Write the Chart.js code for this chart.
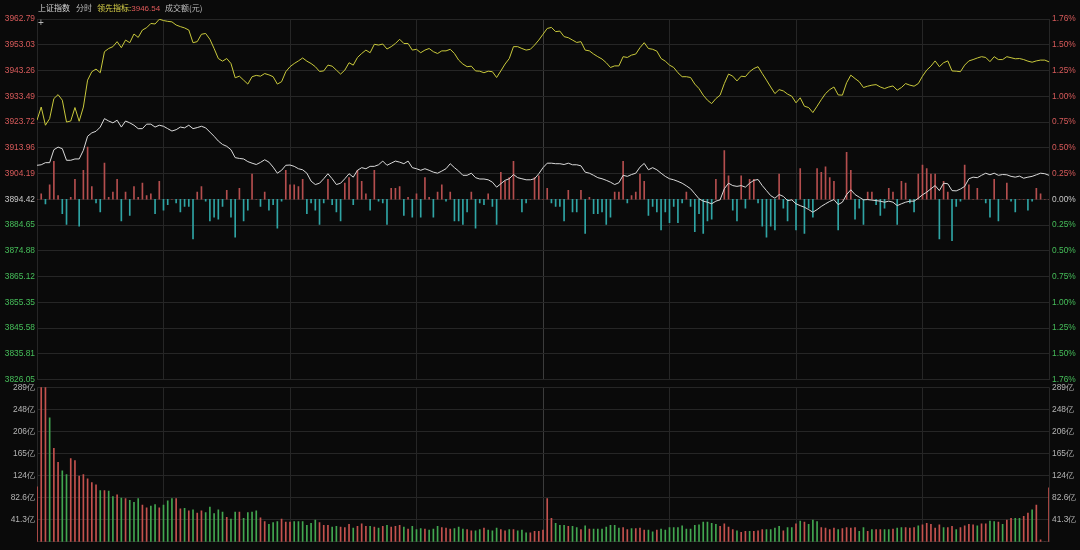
<!DOCTYPE html>
<html>
<head>
<meta charset="utf-8">
<title>上证指数 分时</title>
<script src="https://cdn.jsdelivr.net/npm/chart.js@4.4.1/dist/chart.umd.min.js"></script>
<style>
  html, body { margin: 0; padding: 0; background: #0a0a0a; }
  #wrap { position: relative; width: 1080px; height: 550px; overflow: hidden; }
  canvas { position: absolute; left: 0; top: 0; }
  .hd { position: absolute; top: 2px; font-size: 8px; line-height: 11px; white-space: nowrap;
        font-family: "Noto Sans CJK SC", "Liberation Sans", sans-serif; }
  .num { font-family: "Liberation Sans", sans-serif; }
</style>
</head>
<body>
<div id="wrap">
  <canvas id="main" width="1080" height="550"></canvas>
  <canvas id="vol" width="1080" height="550"></canvas>
  <div class="hd" style="left:38px;color:#d6d6d6">上证指数</div>
  <div class="hd" style="left:76px;color:#bcbcbc">分时</div>
  <div class="hd" style="left:97px;color:#dcd44a">领先指标:<span class="num" style="color:#e05a5a">3946.54</span></div>
  <div class="hd" style="left:165px;color:#bcbcbc">成交额(元)</div>
  <div class="hd num" style="left:38px;top:17px;font-size:10px;color:#b8b8b8">+</div>
</div>
<script>
// previous close, centre of the price axis
const base = 3894.42;

// left axis (price) and right axis (percent), top to bottom
const priceTicks = [3962.79, 3953.03, 3943.26, 3933.49, 3923.72, 3913.96, 3904.19, 3894.42,
                    3884.65, 3874.88, 3865.12, 3855.35, 3845.58, 3835.81, 3826.05];
const pctTicks = ['1.76%', '1.50%', '1.25%', '1.00%', '0.75%', '0.50%', '0.25%', '0.00%',
                  '0.25%', '0.50%', '0.75%', '1.00%', '1.25%', '1.50%', '1.76%'];

// turnover axis (亿)
const volTickValues = [0, 41.3, 82.6, 123.9, 165.2, 206.5, 247.8, 289.1];
const volTickLabels = ['', '41.3亿', '82.6亿', '124亿', '165亿', '206亿', '248亿', '289亿'];

// one value per minute, 09:30 .. 11:30 / 13:01 .. 15:00
const leadIndex = [
  3924.4,3929.4,3922.5,3925.0,3932.6,3934.1,3932.0,3923.7,3924.1,3929.2,
  3924.0,3929.4,3939.6,3942.8,3943.8,3942.4,3950.4,3951.6,3952.3,3954.2,
  3951.9,3954.8,3953.8,3957.1,3955.8,3958.6,3959.5,3961.1,3960.9,3962.7,
  3962.2,3961.9,3961.7,3960.5,3959.9,3959.4,3958.6,3953.8,3954.2,3957.0,
  3957.3,3955.1,3951.6,3947.8,3946.8,3947.8,3945.9,3940.5,3941.1,3939.6,
  3938.1,3940.9,3941.4,3941.1,3942.1,3941.6,3940.9,3938.1,3939.0,3942.8,
  3944.7,3945.9,3946.9,3948.0,3946.8,3945.9,3944.7,3942.9,3943.1,3945.3,
  3944.9,3943.4,3941.9,3943.4,3946.2,3945.3,3948.2,
  3949.7,3951.0,3950.0,3953.2,3952.9,3953.3,3951.4,3952.3,3953.5,3955.1,
  3953.5,3953.5,3951.0,3951.3,3950.0,3951.0,3951.6,3950.4,3949.7,3950.7,
  3950.7,3951.3,3949.7,3947.2,3945.7,3944.7,3944.9,3943.1,3943.0,3942.4,
  3943.0,3942.8,3940.6,3943.1,3945.7,3947.8,3952.3,3952.3,3951.6,3951.0,
  3951.3,3952.9,3954.8,3957.0,3959.2,3959.6,3958.0,3958.2,3956.1,3955.7,
  3954.8,3953.9,3954.2,3951.0,3950.7,3949.5,3948.5,3947.6,3946.2,3944.4,
  3945.0,3945.0,3948.5,3948.2,3949.1,3949.5,3951.9,3953.8,3951.6,3951.3,
  3950.6,3947.8,3946.8,3945.3,3944.4,3942.4,3940.9,3940.9,3940.6,3938.1,
  3936.4,3933.9,3932.0,3930.7,3932.6,
  3933.9,3938.3,3941.9,3941.1,3939.3,3941.1,3940.9,3942.8,3944.0,3944.7,
  3942.1,3939.6,3937.0,3934.5,3936.0,3935.5,3934.3,3933.5,3931.0,3932.9,
  3929.7,3929.2,3927.3,3929.7,3932.2,3934.5,3936.0,3937.0,3934.0,3933.9,
  3938.6,3941.5,3940.2,3939.0,3936.8,3937.3,3937.7,3937.9,3937.0,3936.4,
  3937.0,3937.4,3935.8,3936.8,3938.3,3937.7,3937.3,3938.3,3941.1,3943.4,
  3944.9,3946.9,3944.7,3946.2,3946.9,3943.1,3943.0,3942.8,3945.3,3946.9,
  3947.4,3948.0,3948.5,3948.2,3946.6,3948.5,3947.4,3947.4,3948.5,3948.1,
  3947.7,3947.8,3947.4,3946.8,3946.4,3946.9,3947.2,3947.2,3946.54
];

const shIndex = [
  3907.3,3907.5,3908.3,3908.3,3913.2,3914.2,3913.6,3909.2,3909.2,3909.7,
  3909.7,3913.0,3918.3,3919.6,3920.2,3921.8,3925.0,3924.1,3923.4,3924.4,
  3921.8,3924.1,3923.4,3922.5,3921.2,3921.2,3922.9,3922.9,3921.8,3922.5,
  3922.1,3921.2,3920.3,3920.8,3921.8,3921.5,3922.5,3921.2,3921.6,3922.1,
  3921.5,3919.9,3918.3,3916.5,3915.2,3914.5,3913.2,3910.2,3909.9,3909.7,
  3908.7,3908.1,3907.6,3908.4,3909.4,3908.5,3906.6,3904.3,3905.4,3907.3,
  3907.4,3906.9,3906.0,3905.6,3904.3,3901.3,3900.0,3900.5,3902.2,3904.1,
  3902.2,3900.0,3900.5,3902.2,3904.1,3902.8,3905.4,
  3906.4,3906.0,3906.9,3906.9,3907.5,3908.9,3907.3,3908.1,3908.9,3908.5,
  3907.9,3908.9,3906.4,3906.0,3905.4,3906.0,3905.4,3904.7,3904.3,3905.1,
  3906.0,3907.9,3906.4,3905.1,3903.5,3903.5,3904.3,3902.6,3902.1,3902.1,
  3901.8,3900.9,3899.0,3900.3,3901.6,3902.2,3903.8,3902.6,3902.2,3901.8,
  3901.8,3902.2,3904.1,3906.4,3908.1,3908.1,3907.9,3907.9,3907.6,3908.1,
  3907.5,3907.5,3907.1,3904.7,3904.3,3903.5,3902.6,3902.2,3901.6,3900.9,
  3900.0,3900.7,3903.5,3903.1,3903.8,3904.3,3906.6,3908.0,3905.6,3906.4,
  3905.6,3904.3,3903.1,3902.2,3901.8,3901.2,3900.5,3899.5,3898.4,3896.5,
  3894.6,3893.7,3893.3,3892.7,3893.7,
  3894.2,3898.4,3900.5,3899.6,3899.3,3899.6,3899.0,3900.5,3901.6,3901.9,
  3899.6,3897.7,3895.8,3894.8,3896.2,3895.5,3893.9,3894.2,3892.7,3892.0,
  3891.4,3890.5,3889.5,3890.5,3891.7,3892.7,3893.6,3894.3,3892.4,3893.3,
  3896.2,3898.0,3896.2,3895.2,3894.2,3894.3,3894.1,3893.9,3893.7,3893.3,
  3893.7,3893.3,3892.0,3892.7,3893.3,3893.7,3893.7,3894.8,3896.1,3897.1,
  3898.4,3899.6,3897.7,3900.5,3900.3,3897.7,3897.6,3898.3,3899.3,3902.2,
  3902.8,3902.6,3903.5,3904.3,3903.7,3904.3,3903.5,3903.8,3903.7,3903.1,
  3902.8,3903.2,3902.4,3902.8,3903.1,3903.7,3904.3,3904.1,3903.5
];

// buy / sell strength bars around the zero line
const strength = [
  0,3,-2.6,8,21,2,-8,-14,1,11,-15,16,29,7,-2,-7,20,1,4,11,
  -12,4,-9,7,1,9,2,3,-8,10,-6,-3,0,-2,-7,-4,-4,-22,4,7,
  -1,-12,-10,-11,-4,5,-10,-21,6,-12,-6,14,0,-4,4,-6,-3,-16,-1,16,
  8,8,7,11,-8,-2,-6,-14,-2,11,-3,-7,-12,9,12,-3,16,
  10,3,-6,16,-1,-2,-14,6,6,7,-9,1,-10,3,-10,12,1,-10,4,8,
  -1,4,-12,-12,-14,-7,4,-16,-2,-3,3,-4,-14,15,10,12,21,0,-7,-2,
  0,12,13,0,6,-2,-4,-4,-12,5,-7,-7,5,-19,1,-8,-8,-7,-14,-10,
  4,4,21,-2,2,4,14,10,-9,-4,-7,-17,-7,-13,-4,-13,-2,4,-4,-18,
  -8,-19,-12,-11,11,
  0,27,13,-6,-12,13,-5,11,11,-2,-15,-21,-15,-17,14,-5,-12,0,-17,17,
  -19,-5,-10,17,15,18,12,10,-17,0,26,16,-11,-5,-14,4,4,-3,-9,-5,
  6,4,-14,10,9,-2,-7,14,19,17,14,14,-22,10,4,-23,-4,-1,19,8,
  0,6,0,-2,-10,11,-12,0,9,-1,-7,0,0,-6,-1,6,3,0,0
];

// turnover per minute (亿元)
const turnover = [
  103,289,289,232,175,149,133,126,156,152,123,126,118,111,107,96,96,95,85,88,
  82,81,78,74,81,69,64,67,70,64,69,77,81,81,62,63,58,60,54,58,
  55,65,53,60,56,46,43,56,56,44,55,56,58,45,38,33,36,38,43,37,
  37,38,38,38,31,35,41,36,31,31,28,29,28,27,33,26,29,
  34,29,29,28,26,29,31,28,29,31,28,24,29,23,25,24,22,24,29,27,
  26,24,25,28,24,23,21,21,23,26,22,21,26,23,21,23,23,21,22,17,
  17,20,20,22,81,44,35,31,31,29,29,27,23,30,24,24,24,24,28,31,
  31,26,27,23,25,25,26,22,22,19,22,24,22,27,27,27,30,24,24,31,
  32,37,37,35,33,
  29,34,28,23,21,18,20,20,20,21,23,23,23,26,29,21,27,27,34,39,
  37,33,41,38,27,26,23,26,23,25,27,26,27,20,27,20,23,23,23,23,
  23,24,26,27,27,26,27,30,32,35,33,26,32,27,27,29,23,27,30,33,
  32,30,34,34,39,38,37,33,41,44,44,44,48,54,60,69,4,0,101
];
// r = minute closed up, g = minute closed down
const turnoverSide = (
  'rrrgrrggrrrrrrrgrggrgrgggrrggrgggrrgrgrrgggggrggrggggrrgggrrrggggggrrrggrrrgr' +
  'rrgrgrgrrrgrgggrgggrrrgggrrggrgggrrgrgggrrrrrrgggrggrgrgggggg' + 'grrgrrrggrggggggggggggggr' +
  'rrrgrrgrrrggggrggrgrgggrrrrgrrrrggrgrrggrggrrrgrrrrrgrrgrrrrgrrggrgrrggrrgrrrrg'
).split('');

const UP = '#d65a5a', DOWN = '#46be5a', FLAT = '#c8c8c8';
const GRID = '#262626', GRID_MID = '#3c3c3c';
const tickFont = { family: 'Liberation Sans', size: 8.4 };

const pts = arr => arr.map((v, i) => ({ x: i, y: v }));
const fixTicks = values => axis => {
  axis.ticks = values.slice().sort((a, b) => a - b).map(v => ({ value: v }));
};
const priceColor = c => c.tick.value > base + 0.01 ? UP : (c.tick.value < base - 0.01 ? DOWN : FLAT);

function timeAxis() {
  return {
    type: 'linear', min: 0, max: 240, offset: false,
    ticks: { display: false, stepSize: 30 },
    grid: { offset: false, drawTicks: false, color: c => (c.tick && c.tick.value === 120) ? GRID_MID : GRID },
    border: { display: false },
    afterFit: a => { a.height = 0; }
  };
}

const common = {
  responsive: false,
  animation: false,
  devicePixelRatio: 1,
  events: [],
  plugins: { legend: { display: false }, tooltip: { enabled: false } }
};

// price panel
new Chart(document.getElementById('main'), {
  type: 'line',
  data: {
    datasets: [
      {
        type: 'bar', data: pts(strength), yAxisID: 'yS', order: 3,
        backgroundColor: strength.map(v => v >= 0 ? '#b44e4e' : '#2fa4a4'),
        barThickness: 1
      },
      {
        data: pts(shIndex), yAxisID: 'y', order: 2,
        borderColor: '#dadada', borderWidth: 1, pointRadius: 0, tension: 0
      },
      {
        data: pts(leadIndex), yAxisID: 'y', order: 1,
        borderColor: '#c9c93c', borderWidth: 1, pointRadius: 0, tension: 0
      }
    ]
  },
  options: Object.assign({}, common, {
    layout: { autoPadding: false, padding: { left: 0, right: 0, top: 19, bottom: 170.5 } },
    scales: {
      x: timeAxis(),
      y: {
        position: 'left', min: 3826.05, max: 3962.79,
        afterBuildTicks: fixTicks(priceTicks),
        afterFit: a => { a.width = 37; },
        ticks: { font: tickFont, padding: 2, color: priceColor, callback: v => v.toFixed(2) },
        grid: { color: GRID, drawTicks: false },
        border: { display: false }
      },
      yR: {
        position: 'right', min: 3826.05, max: 3962.79,
        afterBuildTicks: fixTicks(priceTicks),
        afterFit: a => { a.width = 31; },
        ticks: {
          font: tickFont, padding: 3, color: priceColor,
          callback: v => pctTicks[priceTicks.findIndex(p => Math.abs(p - v) < 0.001)]
        },
        grid: { display: false, drawTicks: false },
        border: { display: false }
      },
      yS: { display: false, min: -100, max: 100 }
    }
  })
});

// turnover panel
new Chart(document.getElementById('vol'), {
  type: 'bar',
  data: {
    datasets: [{
      data: pts(turnover),
      backgroundColor: turnoverSide.map(s => s === 'r' ? '#c4524e' : '#42a650'),
      barThickness: 1
    }]
  },
  options: Object.assign({}, common, {
    layout: { autoPadding: false, padding: { left: 0, right: 0, top: 387.3, bottom: 1.7 } },
    scales: {
      x: timeAxis(),
      y: {
        position: 'left', min: 0, max: 289.1,
        afterBuildTicks: fixTicks(volTickValues),
        afterFit: a => { a.width = 37; },
        ticks: { font: tickFont, padding: 2, color: '#b4b4b4',
                 callback: v => volTickLabels[volTickValues.findIndex(t => Math.abs(t - v) < 0.001)] },
        grid: { color: GRID, drawTicks: false },
        border: { display: false }
      },
      yR: {
        position: 'right', min: 0, max: 289.1,
        afterBuildTicks: fixTicks(volTickValues),
        afterFit: a => { a.width = 31; },
        ticks: { font: tickFont, padding: 3, color: '#b4b4b4',
                 callback: v => volTickLabels[volTickValues.findIndex(t => Math.abs(t - v) < 0.001)] },
        grid: { display: false, drawTicks: false },
        border: { display: false }
      }
    }
  })
});
</script>
</body>
</html>
